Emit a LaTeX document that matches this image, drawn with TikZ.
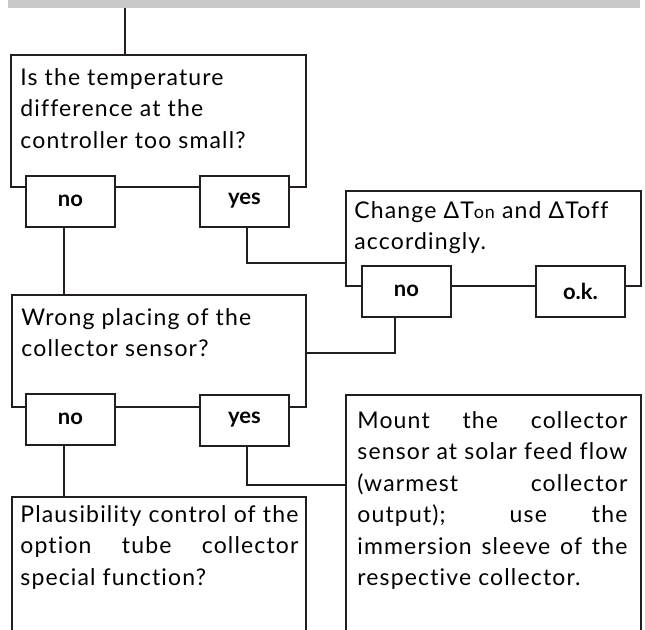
\documentclass[tikz,border=0pt]{standalone}
\usepackage{fontspec}
\setmainfont{Lato}
\newfontfamily\boxfont{Lato}[LetterSpace=5, Ligatures=NoCommon]
\usetikzlibrary{positioning}
\definecolor{barGrey}{HTML}{C8C8C8}
\definecolor{lineInk}{HTML}{231F20}
\tikzset{
  frame/.style={draw=lineInk, line width=1pt, inner sep=0pt, fill=white},
  tag/.style={frame, minimum width=44.5pt, minimum height=25.5pt, font=\bfseries\fontsize{11}{12}\selectfont},
  txt/.style={inner sep=0pt, anchor=north west, align=left, font=\boxfont\fontsize{11.5}{15.75}\selectfont},
  jtxt/.style={txt, align=justify},
  link/.style={draw=lineInk, line width=1pt},
}
\begin{document}
\begin{tikzpicture}[x=0.5pt, y=-0.5pt]
  \useasboundingbox (0,0) rectangle (645,629);
  \clip (0,0) rectangle (645,629);
  \node[fill=barGrey, inner sep=0pt, minimum width=316pt, minimum height=4pt] (bar) at (324,4) {};
  % question and action boxes
  \node[frame, minimum width=147.5pt, minimum height=66pt] (q1) at (158.5,121) {};
  \node[frame, minimum width=147pt, minimum height=56pt] (q2) at (159,351) {};
  \node[frame, minimum width=147pt, minimum height=82pt] (q3) at (159,579) {};
  \node[frame, minimum width=147.5pt, minimum height=47.5pt] (a1) at (493.5,238.5) {};
  \node[frame, minimum width=147.5pt, minimum height=135pt] (a2) at (493.5,530) {};
  % texts
  \node[txt] (q1t) at ([shift={(5pt,-7pt)}]q1.north west) {Is the temperature\\difference at the\\controller too small?};
  \node[txt] (q2t) at ([shift={(5pt,-7pt)}]q2.north west) {Wrong placing of the\\collector sensor?};
  \node[txt] (a1t) at ([shift={(4.5pt,-5.5pt)}]a1.north west) {Change ΔT{\fontsize{9}{9}\selectfont on} and ΔToff\\accordingly.};
  \node[jtxt, text width=135pt] (a2t) at ([shift={(6pt,-8.5pt)}]a2.north west)
    {Mount the collector\linebreak sensor at solar feed flow\linebreak (warmest collector\linebreak output); use the\linebreak immersion sleeve of the\linebreak respective collector.};
  \node[jtxt, text width=139pt] (q3t) at ([shift={(4.5pt,-4.5pt)}]q3.north west)
    {Plausibility control of the\linebreak option tube collector\linebreak special function?};
  % answer tags
  \node[tag] (q1no) at (70.5,201) {no};
  \node[tag] (q1yes) at (244.5,201) {yes};
  \node[tag] (a1no) at (406.5,291) {no};
  \node[tag] (a1ok) at (580.5,291) {o.k.};
  \node[tag] (q2no) at (70.5,419) {no};
  \node[tag] (q2yes) at (244.5,420) {yes};
  % connectors
  \coordinate (feed) at ([xshift=-99.5pt]bar.south);
  \coordinate (q1drop) at ([xshift=-3.25pt]q1no.south);
  \coordinate (q2drop) at ([xshift=-3.25pt]q2no.south);
  \draw[link] (feed) -- (feed |- q1.north);
  \draw[link] (q1drop) -- (q1drop |- q2.north);
  \draw[link] (q2drop) -- (q2drop |- q3.north);
  \draw[link] ([xshift=1.25pt]q1yes.south) |- ([yshift=-12.25pt]a1.west);
  \draw[link] ([xshift=-5.75pt]a1no.south) |- ([yshift=-1pt]q2.east);
  \draw[link] ([xshift=1.25pt]q2yes.south) |- ([yshift=-45.5pt]a2.north west);
\end{tikzpicture}
\end{document}
